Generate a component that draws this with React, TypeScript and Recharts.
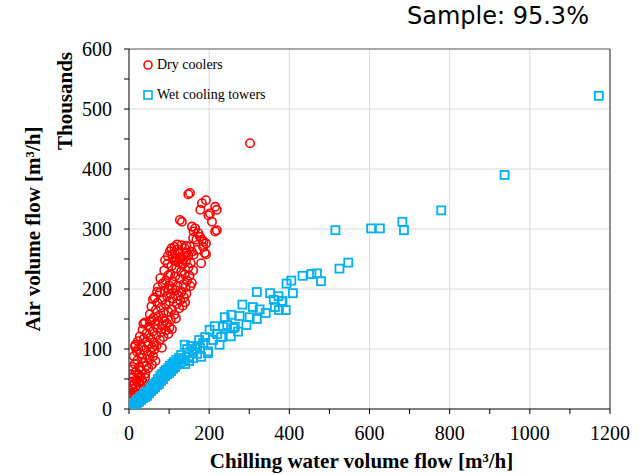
import React from "react";
import {
  ScatterChart,
  Scatter,
  XAxis,
  YAxis,
  CartesianGrid,
  ReferenceLine,
  Label,
} from "recharts";

// Chilling water volume flow [m3/h] vs air volume flow [thousand m3/h]
const dryCoolers: [number, number][] = [
  // 0-50
  [1, 4], [3, 9], [2, 18], [5, 14], [4, 27], [7, 22], [9, 33], [6, 38], [11, 28], [13, 42],
  [16, 36], [19, 47], [22, 31], [25, 44], [28, 39], [12, 12], [8, 46], [17, 24], [31, 48], [35, 45],
  // 50-100
  [5, 58], [8, 66], [11, 53], [14, 75], [12, 88], [17, 62], [19, 96], [21, 81], [24, 57], [26, 70],
  [28, 92], [31, 64], [33, 85], [36, 77], [38, 98], [41, 59], [43, 72], [46, 90], [48, 68], [51, 83],
  [54, 95], [57, 74], [60, 88], [63, 99], [66, 80], [23, 100], [15, 104], [9, 70], [40, 52], [29, 54],
  // 100-150
  [16, 107], [22, 113], [27, 121], [31, 104], [34, 132], [37, 117], [40, 144], [44, 126], [47, 108], [50, 137],
  [53, 119], [56, 148], [59, 129], [62, 111], [65, 141], [68, 123], [71, 134], [74, 146], [77, 115], [80, 128],
  [83, 139], [86, 120], [89, 147], [92, 131], [95, 142], [98, 125], [101, 136], [104, 149], [107, 133], [58, 103],
  [69, 106], [82, 102], [45, 112], [36, 142], [52, 146],
  // 150-200
  [52, 158], [56, 171], [61, 152], [64, 186], [67, 165], [71, 177], [74, 155], [77, 194], [80, 169], [83, 182],
  [86, 160], [89, 197], [92, 174], [95, 188], [98, 162], [101, 179], [104, 192], [107, 166], [110, 184], [113, 157],
  [116, 198], [119, 175], [122, 189], [125, 168], [128, 181], [131, 195], [134, 172], [137, 186], [140, 178], [143, 192],
  [70, 195], [84, 151], [117, 151], [60, 183], [99, 199],
  // 200-250
  [72, 203], [78, 218], [84, 209], [88, 231], [92, 214], [96, 242], [100, 206], [103, 225], [106, 238], [109, 212],
  [112, 248], [115, 221], [118, 234], [121, 205], [124, 244], [127, 217], [130, 229], [133, 240], [136, 208], [139, 224],
  [142, 246], [145, 214], [148, 236], [151, 222], [154, 243], [157, 210], [160, 231], [90, 248], [108, 201], [126, 250],
  [141, 203], [98, 223], [118, 246], [135, 249], [153, 205], [180, 243],
  // 250-275
  [97, 255], [102, 263], [108, 258], [113, 270], [117, 252], [122, 266], [126, 259], [131, 273], [135, 254], [139, 268],
  [144, 261], [148, 256], [152, 271], [157, 262], [161, 257], [114, 260], [128, 252], [143, 272], [106, 268], [120, 274],
  [189, 260], [185, 270],
  // upper
  [127, 315], [132, 312], [148, 358], [152, 360], [157, 304], [165, 301], [161, 296], [173, 293], [177, 287], [182, 282],
  [186, 279], [192, 276], [192, 258], [182, 343], [192, 348], [178, 332], [215, 337], [219, 332], [202, 326], [198, 323],
  [207, 312], [219, 298], [215, 296], [302, 443], [170, 265], [168, 282], [160, 285],
];

const wetTowers: [number, number][] = [
  [2, 2], [4, 5], [6, 3], [8, 8], [10, 6], [12, 10], [15, 8], [18, 14], [20, 10], [22, 16],
  [25, 12], [28, 20], [30, 15], [32, 22], [35, 18], [38, 25], [40, 20], [42, 28], [45, 22], [48, 30],
  [50, 26], [52, 35], [55, 30], [58, 38], [60, 33], [62, 42], [65, 36], [68, 45], [70, 40], [72, 50],
  [75, 42], [78, 55], [80, 47], [82, 58], [85, 50], [88, 62], [90, 55], [92, 65], [95, 58], [98, 68],
  [100, 60], [102, 72], [105, 63], [108, 75], [110, 67], [112, 78], [115, 70], [118, 82], [120, 74], [125, 85],
  [128, 78], [130, 90], [135, 82], [139, 107], [145, 100], [150, 88], [155, 105], [160, 95], [165, 100], [170, 92],
  [177, 102], [180, 87], [197, 96], [197, 93], [201, 132], [214, 138], [226, 107], [239, 153], [254, 121], [255, 157],
  [272, 129], [276, 155], [283, 174], [293, 140], [301, 153], [309, 170], [319, 150], [326, 166], [341, 160], [361, 182],
  [381, 179], [364, 170], [374, 165], [391, 165], [319, 195], [352, 193], [373, 188], [383, 180], [405, 214], [393, 209],
  [409, 193], [433, 222], [455, 225], [469, 226], [479, 213], [515, 298], [525, 234], [547, 244], [604, 301], [626, 301],
  [682, 312], [686, 298], [779, 331], [937, 390], [1172, 522], [185, 110], [190, 120], [210, 115], [220, 125], [235, 137],
  [245, 140], [260, 135], [264, 137], [150, 80], [160, 85], [170, 105], [175, 115], [140, 75], [230, 120],
];

const xTicks = [0, 100, 200, 300, 400, 500, 600, 700, 800, 900, 1000, 1100, 1200];
const yTicks = [0, 50, 100, 150, 200, 250, 300, 350, 400, 450, 500, 550, 600];
const xGrid = [200, 400, 600, 800, 1000];
const yGrid = [100, 200, 300, 400, 500];

const seriesNames = ["Dry coolers", "Wet cooling towers"];
const titleText = "Sample: 95.3%";
const xTitle = "Chilling water volume flow [m³/h]";
const yTitle = "Air volume flow [m³/h]";
const yUnit = "Thousands";

const RED = "#FF0000";
const CYAN = "#00B0F0";
const SERIF = "'Liberation Serif', 'Times New Roman', serif";

const dryData = dryCoolers.map(([x, y]) => ({ x, y }));
const wetData = wetTowers.map(([x, y]) => ({ x, y }));

const Circle = (p: any) => (
  <circle cx={p.cx} cy={p.cy} r={4.2} fill="none" stroke={RED} strokeWidth={1.6} />
);
const Square = (p: any) => (
  <rect x={p.cx - 4} y={p.cy - 4} width={8} height={8} fill="none" stroke={CYAN} strokeWidth={1.8} />
);

const XTick = (p: any) =>
  p.payload.value % 200 === 0 ? (
    <text x={p.x} y={p.y} dy="0.71em" textAnchor="middle" fontFamily={SERIF} fontSize={20} fill="#000">
      {p.payload.value}
    </text>
  ) : null;

const YTick = (p: any) =>
  p.payload.value % 100 === 0 ? (
    <text x={p.x} y={p.y} dy="0.35em" textAnchor="end" fontFamily={SERIF} fontSize={20} fill="#000">
      {p.payload.value}
    </text>
  ) : null;

const XTitle = (props: any) => {
  const vb = props.viewBox || {};
  return (
    <text
      x={vb.x + vb.width / 2 - 8}
      y={468}
      textAnchor="middle"
      fontFamily={SERIF}
      fontWeight="bold"
      fontSize={21}
      fill="#000"
    >
      {xTitle}
    </text>
  );
};

const YTitle = () => (
  <g>
    <text
      transform="translate(40,229) rotate(-90)"
      textAnchor="middle"
      fontFamily={SERIF}
      fontWeight="bold"
      fontSize={21}
      fill="#000"
    >
      {yTitle}
    </text>
    <text
      transform="translate(72,101) rotate(-90)"
      textAnchor="middle"
      fontFamily={SERIF}
      fontWeight="bold"
      fontSize={21}
      fill="#000"
    >
      {yUnit}
    </text>
  </g>
);

export default function App() {
  return (
    <div style={{ position: "fixed", left: 0, top: 0, width: 638, height: 475, background: "#fff" }}>
      <div
        style={{
          position: "absolute",
          left: 407,
          top: 0,
          fontFamily: "'DejaVu Sans', sans-serif",
          fontSize: 24,
          lineHeight: "32px",
          color: "#000",
          whiteSpace: "nowrap",
        }}
      >
        {titleText}
      </div>
      <ScatterChart
        width={638}
        height={475}
        margin={{ top: 49, right: 28, bottom: 0, left: 49 }}
      >
        <CartesianGrid
          stroke="#D9D9D9"
          strokeWidth={1}
          horizontalValues={yGrid}
          verticalValues={xGrid}
        />
        <XAxis
          type="number"
          dataKey="x"
          domain={[0, 1200]}
          ticks={xTicks}
          interval={0}
          height={66}
          tickSize={5}
          tickMargin={12}
          tick={<XTick />}
          axisLine={{ stroke: "#000", strokeWidth: 1 }}
          tickLine={{ stroke: "#000" }}
          allowDataOverflow
        >
          <Label content={<XTitle />} />
        </XAxis>
        <YAxis
          type="number"
          dataKey="y"
          domain={[0, 600]}
          ticks={yTicks}
          interval={0}
          width={80}
          tickSize={5}
          tickMargin={12}
          tick={<YTick />}
          axisLine={{ stroke: "#000", strokeWidth: 1 }}
          tickLine={{ stroke: "#000" }}
          allowDataOverflow
        >
          <Label content={<YTitle />} />
        </YAxis>
        <ReferenceLine y={600} stroke="#8C8C8C" strokeWidth={1.5} />
        <ReferenceLine x={1200} stroke="#8C8C8C" strokeWidth={2} />
        <Scatter
          name={seriesNames[0]}
          data={dryData}
          shape={Circle}
          isAnimationActive={false}
        />
        <Scatter
          name={seriesNames[1]}
          data={wetData}
          shape={Square}
          isAnimationActive={false}
        />
      </ScatterChart>
      <div
        style={{
          position: "absolute",
          left: 143,
          top: 55,
          fontFamily: SERIF,
          fontSize: 14,
          color: "#000",
          lineHeight: "20px",
        }}
      >
        <div style={{ display: "flex", alignItems: "center", height: 20 }}>
          <svg width={12} height={12} style={{ marginRight: 2 }}>
            <circle cx={5} cy={6} r={4} fill="none" stroke={RED} strokeWidth={1.6} />
          </svg>
          <span>{seriesNames[0]}</span>
        </div>
        <div style={{ display: "flex", alignItems: "center", height: 20, marginTop: 10 }}>
          <svg width={12} height={12} style={{ marginRight: 2 }}>
            <rect x={1} y={2} width={8} height={8} fill="none" stroke={CYAN} strokeWidth={1.6} />
          </svg>
          <span>{seriesNames[1]}</span>
        </div>
      </div>
    </div>
  );
}
